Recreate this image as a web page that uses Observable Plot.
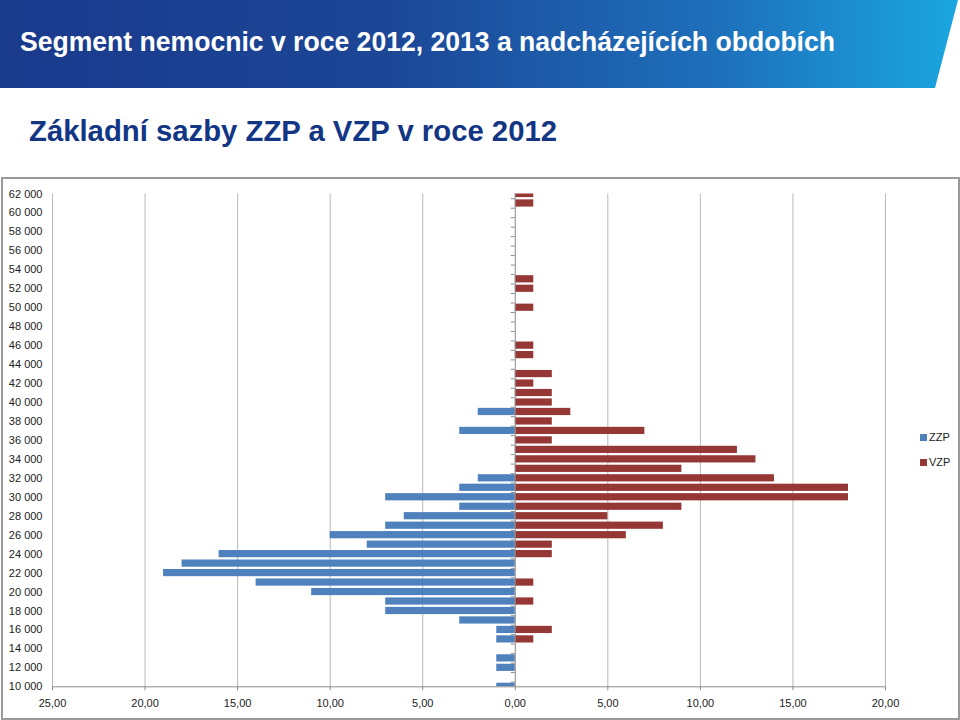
<!DOCTYPE html>
<html><head><meta charset="utf-8">
<script src="https://cdn.jsdelivr.net/npm/d3@7"></script>
<script src="https://cdn.jsdelivr.net/npm/@observablehq/plot@0.6"></script>
<style>
html,body{margin:0;padding:0;background:#fff;width:960px;height:720px;overflow:hidden;position:relative;font-family:"Liberation Sans",Arial,sans-serif;}
#band{position:absolute;left:0;top:0;width:960px;height:88px;background:linear-gradient(90deg,#1a3a8c 0%,#1c4696 40%,#1e70bb 75%,#1aa6e0 100%);clip-path:polygon(0 0,958px 0,935px 88px,0 88px);}
#title{position:absolute;left:20px;top:26px;color:#fff;font-family:"Liberation Sans",Arial,sans-serif;font-weight:bold;font-size:28px;line-height:32px;white-space:nowrap;transform-origin:0 0;}
#subtitle{position:absolute;left:29px;top:114px;color:#123584;font-family:"Liberation Sans",Arial,sans-serif;font-weight:bold;font-size:29px;line-height:34px;white-space:nowrap;transform-origin:0 0;}
#chartbox{position:absolute;left:1px;top:177px;width:955px;height:539px;border:2px solid #9a9a9a;}
#chart{position:absolute;left:0;top:178px;}
.leg{position:absolute;left:920px;font-size:11px;color:#222;line-height:12px;font-family:"Liberation Sans",Arial,sans-serif;}
.leg span{display:inline-block;width:7px;height:7px;margin-right:2px;vertical-align:0px;}
</style></head>
<body>
<div id="band"></div>
<div id="title">Segment nemocnic v roce 2012, 2013 a nadcházejících obdobích</div>
<div id="subtitle">Základní sazby ZZP a VZP v roce 2012</div>
<div id="chartbox"></div>
<div id="chart"></div>
<div class="leg" style="top:431px"><span style="background:#4f81bd"></span>ZZP</div>
<div class="leg" style="top:456px"><span style="background:#953735"></span>VZP</div>
<script>
// Categories (base rate, CZK), top to bottom
const categories = [62000,61000,60000,59000,58000,57000,56000,55000,54000,53000,52000,51000,50000,49000,48000,47000,46000,45000,44000,43000,42000,41000,40000,39000,38000,37000,36000,35000,34000,33000,32000,31000,30000,29000,28000,27000,26000,25000,24000,23000,22000,21000,20000,19000,18000,17000,16000,15000,14000,13000,12000,11000,10000];
// ZZP counts (drawn to the left)
const zzp = [0,0,0,0,0,0,0,0,0,0,0,0,0,0,0,0,0,0,0,0,0,0,0,2,0,3,0,0,0,0,2,3,7,3,6,7,10,8,16,18,19,14,11,7,7,3,1,1,0,1,1,0,1];
// VZP counts (drawn to the right)
const vzp = [1,1,0,0,0,0,0,0,0,1,1,0,1,0,0,0,1,1,0,2,1,2,2,3,2,7,2,12,13,9,14,18,18,9,5,8,6,2,2,0,0,1,0,1,0,0,2,1,0,0,0,0,0];
const series = ["ZZP","VZP"];
const colors = ["#4f81bd","#953735"];
const xTicks = [-25,-20,-15,-10,-5,0,5,10,15,20];
const yLabelTicks = [62000,60000,58000,56000,54000,52000,50000,48000,46000,44000,42000,40000,38000,36000,34000,32000,30000,28000,26000,24000,22000,20000,18000,16000,14000,12000,10000];

// fit header texts to the condensed widths of the original
function fitWidth(id, w){
  const el = document.getElementById(id);
  const r = el.getBoundingClientRect().width;
  el.style.transform = "scaleX(" + (w / r) + ")";
}
fitWidth("title", 815);
fitWidth("subtitle", 528);

const rows = [];
categories.forEach((c,i)=>{
  if (zzp[i]) rows.push({cat:c, series:"ZZP", v:-zzp[i]});
  if (vzp[i]) rows.push({cat:c, series:"VZP", v:vzp[i]});
});
const step = 1000;
const halfBar = step*0.38;
const bounds = [];
categories.forEach(c=>{bounds.push(c+step/2);});
bounds.push(d3.min(categories)-step/2);

const fmtX = d => Math.abs(d).toFixed(2).replace(".", ",");
const fmtY = d => d3.format(",")(d).replace(/,/g, " ");

const plot = Plot.plot({
  width: 960, height: 540,
  marginLeft: 52, marginRight: 75, marginTop: 15.5, marginBottom: 31.7,
  style: {fontFamily: '"Liberation Sans", Arial, sans-serif', fontSize: "11px", color: "#222", background: "transparent"},
  x: {domain: [d3.min(xTicks), d3.max(xTicks)]},
  y: {domain: [d3.min(categories), d3.max(categories)]},
  color: {domain: series, range: colors},
  marks: [
    Plot.ruleX(xTicks.filter(d=>d!==0), {stroke: "#b8b8b8", strokeWidth: 1}),
    Plot.rectX(rows, {x1: 0, x2: "v", y1: d=>d.cat-halfBar, y2: d=>d.cat+halfBar, fill: "series", clip: true}),
    Plot.ruleX([0], {stroke: "#8c8c8c", strokeWidth: 1}),
    Plot.ruleY(bounds.filter(b=>b<=d3.max(categories) && b>=d3.min(categories)), {x1: 0, x2: 0, insetLeft: -4, stroke: "#8c8c8c", strokeWidth: 1}),
    Plot.ruleY([d3.min(categories)], {stroke: "#8c8c8c", strokeWidth: 1}),
    Plot.axisX({ticks: xTicks, tickFormat: fmtX, tickSize: 4, tickPadding: 8, anchor: "bottom", stroke: "#8c8c8c", label: null, fill: "#222"}),
    Plot.axisY({ticks: yLabelTicks, tickFormat: fmtY, tickSize: 0, tickPadding: 10, anchor: "left", label: null, fill: "#222"})
  ]
});
document.getElementById("chart").appendChild(plot);
</script>
</body></html>
